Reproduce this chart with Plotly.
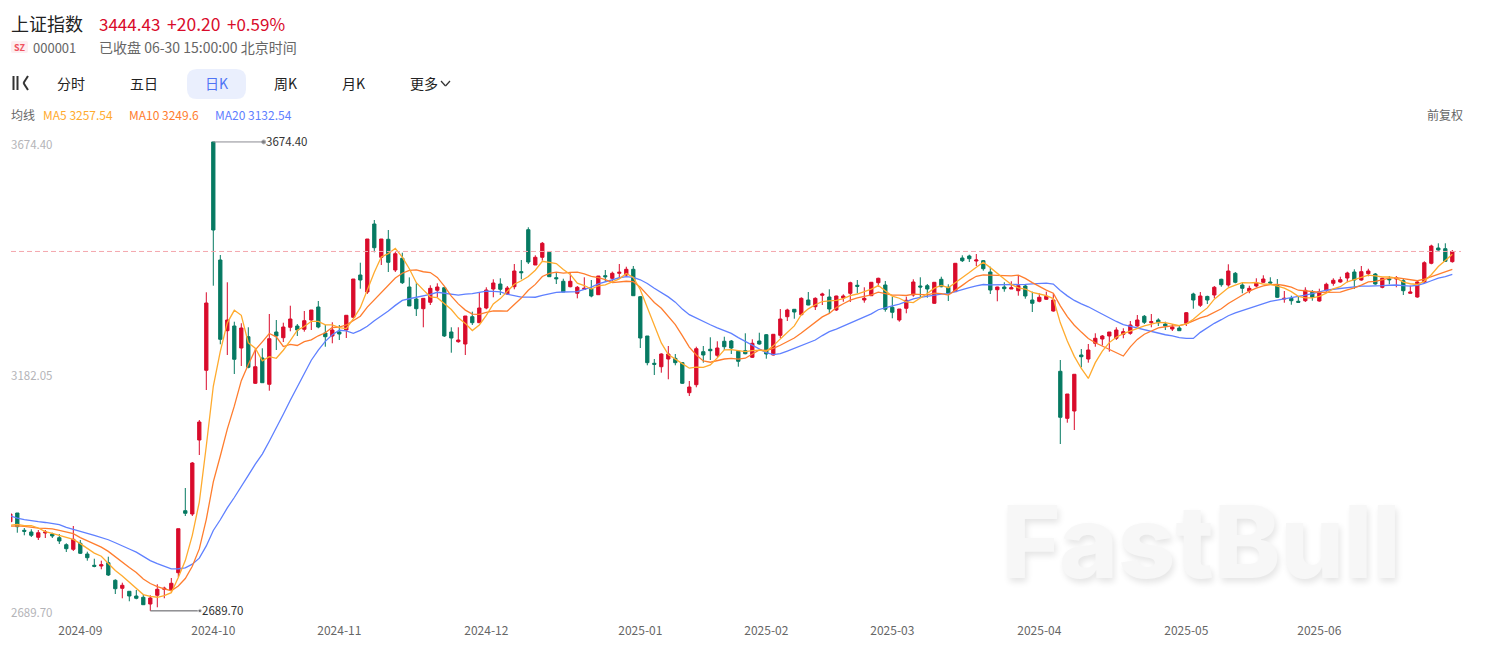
import numpy as np
import plotly.graph_objects as go

# Daily bars
opens = [2876.9,2895.2,2858.9,2855.3,2844.2,2853.2,2851.1,2843.3,2828.6,2819.0,
2831.6,2809.1,2785.4,2783.9,2790.8,2753.9,2737.1,2730.8,2720.9,2718.2,
2704.1,2722.4,2735.0,2733.5,2769.8,2900.0,2893.1,3048.5,3194.9,3674.4,
3426.5,3278.0,3287.9,3241.7,3265.4,3167.6,3220.7,3165.5,3275.3,3263.3,
3285.2,3287.9,3281.0,3300.5,3327.8,3273.2,3266.9,3275.3,3279.5,3306.2,
3395.0,3359.3,3502.1,3432.2,3470.0,3405.5,3430.1,3369.8,3344.6,3324.2,
3337.7,3362.9,3368.3,3275.3,3254.9,3250.1,3307.4,3294.8,3325.7,3365.6,
3376.1,3355.1,3370.4,3402.0,3490.1,3416.0,3432.2,3442.7,3389.3,3381.8,
3370.4,3356.6,3365.0,3366.2,3353.6,3393.5,3388.0,3398.6,3395.0,3407.0,
3349.4,3266.9,3209.6,3202.4,3218.6,3220.0,3210.9,3147.8,3164.6,3233.9,
3239.0,3226.4,3255.8,3256.4,3234.8,3236.0,3222.2,3256.4,3269.6,3227.0,
3268.4,3307.4,3323.0,3311.6,3342.5,3328.4,3352.4,3348.8,3321.5,3346.7,
3356.6,3373.4,3342.5,3351.5,3378.8,3374.0,3327.2,3300.5,3325.1,3353.0,
3371.9,3372.5,3335.6,3386.0,3369.2,3360.0,3430.7,3434.9,3424.4,3425.0,
3401.3,3364.1,3369.8,3365.6,3362.0,3371.9,3342.5,3339.8,3344.0,3319.4,
3192.8,3094.0,3109.4,3227.0,3218.6,3251.6,3260.6,3266.9,3262.1,3270.5,
3272.6,3287.9,3308.3,3294.8,3300.5,3292.1,3281.6,3283.7,3293.6,3355.1,
3331.4,3350.0,3353.0,3386.0,3374.0,3398.6,3374.0,3361.4,3371.9,3379.7,
3380.3,3373.4,3344.6,3346.0,3339.8,3341.0,3358.7,3340.4,3362.0,3377.6,
3380.3,3388.7,3401.3,3384.5,3397.7,3397.1,3369.2,3386.6,3386.6,3383.0,
3356.6,3348.8,3380.3,3419.6,3451.7,3450.2,3423.0]
highs = [2895.2,2895.2,2863.7,2861.0,2859.5,2859.5,2853.8,2851.1,2831.6,2867.9,
2838.5,2813.9,2799.2,2795.0,2803.4,2756.0,2748.8,2730.8,2733.5,2723.6,
2722.4,2745.5,2740.4,2758.7,2862.2,2947.7,3002.3,3090.5,3358.7,3674.4,
3437.0,3379.7,3296.9,3293.6,3285.2,3241.1,3241.1,3313.1,3300.5,3294.8,
3330.5,3292.1,3319.4,3321.5,3340.4,3290.0,3295.7,3290.0,3311.0,3386.6,
3420.8,3470.6,3510.5,3470.6,3489.5,3443.3,3441.8,3390.0,3377.6,3346.0,
3373.4,3377.6,3369.8,3285.2,3285.2,3308.9,3318.0,3357.8,3369.2,3386.0,
3388.1,3371.9,3418.1,3426.5,3495.2,3436.4,3464.3,3443.3,3401.3,3387.2,
3398.6,3371.9,3390.2,3384.5,3392.9,3405.5,3402.0,3418.1,3412.4,3413.9,
3350.9,3266.9,3218.6,3230.6,3245.9,3229.1,3212.3,3172.4,3244.4,3245.9,
3264.2,3255.8,3265.4,3258.5,3237.5,3272.6,3260.0,3273.8,3271.1,3271.1,
3323.6,3324.2,3323.6,3348.2,3359.3,3348.2,3357.8,3365.0,3351.5,3354.5,
3380.9,3384.5,3369.2,3380.3,3389.3,3382.4,3349.4,3323.6,3349.4,3386.0,
3390.2,3376.1,3380.3,3391.4,3375.5,3420.2,3436.4,3437.6,3439.1,3426.5,
3412.4,3370.4,3379.7,3381.8,3395.0,3376.1,3360.0,3356.6,3360.0,3356.6,
3216.5,3145.1,3186.5,3239.6,3250.1,3272.6,3269.0,3275.3,3285.2,3283.1,
3298.4,3311.0,3311.0,3313.1,3304.0,3296.9,3292.1,3287.9,3317.3,3357.8,
3359.3,3351.5,3371.9,3387.2,3417.5,3401.3,3378.8,3372.5,3388.1,3394.4,
3390.2,3386.6,3361.4,3351.5,3349.4,3369.2,3363.5,3366.2,3378.8,3388.1,
3391.4,3401.9,3407.0,3413.9,3408.2,3399.2,3389.3,3392.9,3392.9,3386.6,
3372.5,3384.5,3423.8,3458.6,3461.6,3461.6,3447.5]
lows = [2874.2,2853.8,2848.4,2844.8,2838.5,2842.7,2842.7,2830.1,2813.3,2815.4,
2809.1,2795.0,2781.2,2777.0,2762.9,2725.1,2716.1,2709.8,2714.0,2702.0,
2689.7,2697.2,2716.1,2730.8,2760.2,2888.9,2888.9,3017.0,3153.5,3372.5,
3249.5,3227.0,3187.1,3203.9,3199.1,3166.1,3168.8,3152.0,3237.5,3254.3,
3276.8,3266.9,3276.0,3279.5,3283.1,3244.4,3251.6,3258.5,3262.7,3304.7,
3366.2,3355.1,3442.7,3416.0,3401.3,3401.3,3376.1,3330.0,3308.9,3285.2,
3332.0,3348.2,3264.8,3231.8,3252.8,3227.0,3290.0,3294.8,3323.0,3348.2,
3353.0,3353.0,3365.0,3386.0,3418.1,3416.0,3425.0,3390.8,3376.1,3359.3,
3369.2,3346.0,3363.5,3348.2,3353.0,3380.9,3380.9,3388.0,3392.9,3350.9,
3241.7,3205.4,3185.0,3189.8,3176.0,3205.4,3166.1,3140.9,3159.2,3210.9,
3216.5,3222.2,3237.5,3229.1,3202.4,3228.5,3220.7,3248.6,3219.2,3226.0,
3262.7,3298.4,3303.2,3310.4,3331.4,3321.5,3332.0,3314.6,3319.4,3338.9,
3338.3,3356.6,3336.8,3350.9,3370.4,3318.0,3304.1,3296.9,3314.6,3349.4,
3348.2,3347.3,3334.7,3369.2,3340.4,3359.3,3422.3,3422.3,3413.9,3404.0,
3355.1,3339.8,3359.9,3365.6,3351.5,3345.2,3317.3,3337.7,3342.5,3318.0,
3040.1,3084.8,3069.5,3201.2,3210.9,3244.4,3246.9,3234.0,3258.5,3262.1,
3269.6,3286.4,3292.1,3285.2,3287.9,3279.5,3277.4,3277.4,3287.9,3324.2,
3327.8,3334.1,3346.0,3370.4,3370.4,3377.6,3356.6,3356.6,3369.2,3378.2,
3375.5,3346.7,3336.8,3332.6,3336.8,3338.3,3341.0,3339.0,3360.0,3372.5,
3378.8,3379.7,3365.6,3383.0,3392.3,3374.6,3367.1,3375.5,3369.2,3353.0,
3355.7,3347.3,3378.8,3417.5,3446.0,3422.3,3420.9]
closes = [2893.1,2866.4,2856.8,2848.4,2853.8,2855.3,2846.9,2836.4,2820.2,2840.0,
2810.6,2801.3,2783.3,2786.6,2765.0,2736.2,2743.4,2720.9,2716.1,2702.6,
2716.7,2735.0,2737.1,2747.6,2862.2,2894.6,3000.2,3086.3,3336.2,3489.5,
3260.0,3300.5,3218.0,3283.7,3201.2,3202.4,3168.8,3261.2,3266.9,3285.8,
3302.6,3279.5,3299.0,3321.5,3285.8,3265.4,3279.5,3271.1,3310.4,3386.6,
3384.5,3470.6,3452.3,3470.6,3421.7,3439.7,3378.8,3330.0,3324.2,3346.0,
3367.0,3369.8,3267.0,3262.7,3258.5,3308.9,3294.8,3325.7,3363.5,3378.2,
3365.0,3367.7,3403.4,3399.9,3422.3,3432.2,3461.6,3391.4,3387.2,3359.3,
3381.8,3369.2,3367.0,3350.9,3392.9,3391.4,3398.6,3400.7,3407.0,3351.5,
3262.7,3210.9,3207.5,3229.1,3229.1,3210.9,3167.6,3159.8,3240.2,3227.0,
3236.0,3241.7,3244.4,3241.7,3213.8,3229.7,3251.6,3250.1,3229.1,3270.5,
3302.6,3321.5,3317.3,3346.0,3332.0,3346.0,3355.1,3323.6,3350.9,3350.9,
3378.8,3371.3,3346.0,3379.7,3388.1,3323.0,3316.7,3323.6,3341.9,3380.3,
3369.8,3365.6,3379.7,3370.4,3356.6,3419.6,3425.0,3429.2,3426.5,3408.2,
3363.5,3369.8,3366.2,3368.3,3372.5,3350.9,3335.6,3348.2,3350.3,3342.5,
3096.2,3145.1,3186.5,3223.4,3237.5,3262.1,3266.9,3275.3,3279.5,3276.0,
3290.0,3300.5,3295.7,3296.9,3294.8,3287.9,3285.8,3278.0,3315.8,3342.5,
3350.9,3342.5,3369.2,3374.6,3403.4,3379.7,3367.1,3367.0,3378.8,3386.6,
3378.2,3348.2,3346.0,3341.0,3337.7,3362.9,3348.2,3359.9,3375.5,3383.9,
3385.1,3399.2,3384.5,3402.0,3403.4,3376.1,3388.1,3385.1,3388.7,3362.0,
3359.3,3380.3,3420.8,3455.9,3447.5,3423.8,3444.43]
# Closes of the 19 sessions before the visible window, feeding the moving averages
earlier_closes = [2964.2,2915.4,2902.0,2886.7,2890.9,2891.9,2879.3,2938.8,2932.4,2905.3,
2860.7,2867.3,2869.8,2869.9,2862.2,2858.2,2868.0,2850.7,2877.4]
tick_positions = [10,29,47,68,90,108,126,147,168,187]
tick_labels = ["2024-09","2024-10","2024-11","2024-12","2025-01","2025-02","2025-03","2025-04","2025-05","2025-06"]
axis_values = [3674.40,3182.05,2689.70]
last_price = 3444.43

def moving_average(n):
    s = np.array(earlier_closes + closes)
    return (np.convolve(s, np.ones(n) / n, mode="valid"))[-len(closes):]

ma5 = moving_average(5)
ma10 = moving_average(10)
ma20 = moving_average(20)
index = list(range(len(closes)))

RED = "#d90b2b"
GREEN = "#067a62"
W, H = 1486, 645
L, R, T, B = 11, 1461, 130, 622

def px(x):
    return (x - L) / (R - L)
def py(y):
    return (B - y) / (B - T)

fig = go.Figure()
fig.add_trace(go.Candlestick(x=index, open=opens, high=highs, low=lows, close=closes,
    increasing=dict(line=dict(color=RED, width=1), fillcolor=RED),
    decreasing=dict(line=dict(color=GREEN, width=1), fillcolor=GREEN),
    whiskerwidth=0, showlegend=False, hoverinfo="skip"))
for vals, col in [(ma20, "#5f80ff"), (ma10, "#ff7d2e"), (ma5, "#ffab2e")]:
    fig.add_trace(go.Scatter(x=index, y=vals, mode="lines", line=dict(color=col, width=1.3),
                             showlegend=False, hoverinfo="skip"))

# extreme markers
hi_i = int(np.argmax(highs)); lo_i = int(np.argmin(lows))
fig.add_trace(go.Scatter(x=[hi_i, hi_i + 7.2], y=[max(highs)] * 2, mode="lines+markers",
    line=dict(color="#8c8c92", width=1), marker=dict(size=[0.1, 4], color="#55555a"), showlegend=False, hoverinfo="skip"))
fig.add_trace(go.Scatter(x=[lo_i, lo_i + 7.1], y=[lows[lo_i], lows[lo_i]], mode="lines+markers",
    line=dict(color="#55555a", width=1), marker=dict(size=[0.1, 4], color="#55555a"), showlegend=False, hoverinfo="skip"))

FONT = "Noto Sans CJK SC, Microsoft YaHei, sans-serif"
anns = []
def text(x, y, s, size=12, color="#666666", anchor="left", weight=None, family=FONT, shadow=None):
    f = dict(family=family, size=size, color=color, weight=weight)
    if shadow:
        f["shadow"] = shadow
    anns.append(dict(xref="paper", yref="paper", x=px(x), y=py(y), text=s, showarrow=False,
        xanchor=anchor, yanchor="middle", align="left", borderpad=0, borderwidth=0, font=f))

text(11, 23.5, "上证指数", 18, "#222222")
text(99, 23.5, "3444.43", 17, RED)
text(167, 23.5, "+20.20", 17.5, RED)
text(227, 23.5, "+0.59%", 17, RED)
text(19.5, 47, "SZ", 9, "#f0535f", "center", 700)
text(33, 47, "000001", 13, "#666666")
text(99, 46.5, "已收盘 06-30 15:00:00 北京时间", 14, "#666666")
for cx, s, c in [(71, "分时", "#222222"), (144, "五日", "#222222"), (216, "日K", "#4f74f5"),
                 (285, "周K", "#222222"), (353, "月K", "#222222"), (424, "更多", "#222222")]:
    text(cx, 83, s, 14, c, "center")
text(11, 115, "均线", 12, "#666666")
text(43, 115, "MA5 3257.54", 12, "#ffab2e")
text(129, 115, "MA10 3249.6", 12, "#ff7d2e")
text(215, 115, "MA20 3132.54", 12, "#5f80ff")
text(1463, 115, "前复权", 12, "#666666", "right")
text(11, 144.5, f"{axis_values[0]:.2f}", 11.5, "#b4b4b8")
text(11, 375, f"{axis_values[1]:.2f}", 11.5, "#b4b4b8")
text(11, 612, f"{axis_values[2]:.2f}", 11.5, "#b4b4b8")
text(266, 141, f"{max(highs):.2f}", 11.5, "#333333")
text(202, 610, f"{min(lows):.2f}", 11.5, "#333333")
text(1201.5, 541, "FastBull", 100, "#f7f7f7", "center", 800, "Inter", "2px 4px 6px #e6e6e6")

def seg(x0, y0, x1, y1, color="#333333", w=2):
    return dict(type="line", xref="paper", yref="paper", x0=px(x0), y0=py(y0), x1=px(x1), y1=py(y1),
                line=dict(color=color, width=w))

def round_rect(x0, y0, x1, y1, r, fill):
    a, b, c, d = px(x0), px(x1), py(y0), py(y1)
    rx, ry = r / (R - L), r / (B - T)
    path = (f"M{a+rx},{c} L{b-rx},{c} Q{b},{c} {b},{c-ry} L{b},{d+ry} Q{b},{d} {b-rx},{d} "
            f"L{a+rx},{d} Q{a},{d} {a},{d+ry} L{a},{c-ry} Q{a},{c} {a+rx},{c} Z")
    return dict(type="path", xref="paper", yref="paper", path=path, fillcolor=fill,
                line=dict(width=0), layer="below")

shapes = [
    dict(type="line", xref="paper", yref="y", x0=0, x1=1, y0=last_price, y1=last_price,
         line=dict(color="#f4a7ad", width=1, dash="5px,3px")),
    round_rect(187, 69, 246, 99, 10, "#eaeffd"),
    round_rect(11, 41, 28, 53, 2, "#fdeef0"),
    seg(13.5, 76, 13.5, 90), seg(17.5, 76, 17.5, 90),
    seg(28, 76, 23.5, 83), seg(23.5, 83, 28, 90),
    seg(441, 81, 445.5, 86, w=1.2), seg(445.5, 86, 450, 81, w=1.2),
]
fig.update_layout(
    width=W, height=H, autosize=False, paper_bgcolor="white", plot_bgcolor="white",
    margin=dict(l=L, r=W - R, t=T, b=H - B, pad=0, autoexpand=False), boxgap=0.33,
    font=dict(family=FONT, size=12, color="#666666"),
    xaxis=dict(range=[0.1, 207.24], tickmode="array", tickvals=tick_positions, ticktext=tick_labels,
               showgrid=False, zeroline=False, showline=False, ticks="", automargin=False,
               rangeslider=dict(visible=False), tickfont=dict(size=12, color="#666666")),
    yaxis=dict(range=[3972.5 - 2.1 * B, 3972.5 - 2.1 * T], showgrid=False, zeroline=False,
               showticklabels=False, ticks="", automargin=False),
    annotations=anns, shapes=shapes, showlegend=False,
)
fig.write_html("out.html", config=dict(displayModeBar=False),
               post_script="document.body.style.margin='0';document.documentElement.style.overflow='hidden';")
